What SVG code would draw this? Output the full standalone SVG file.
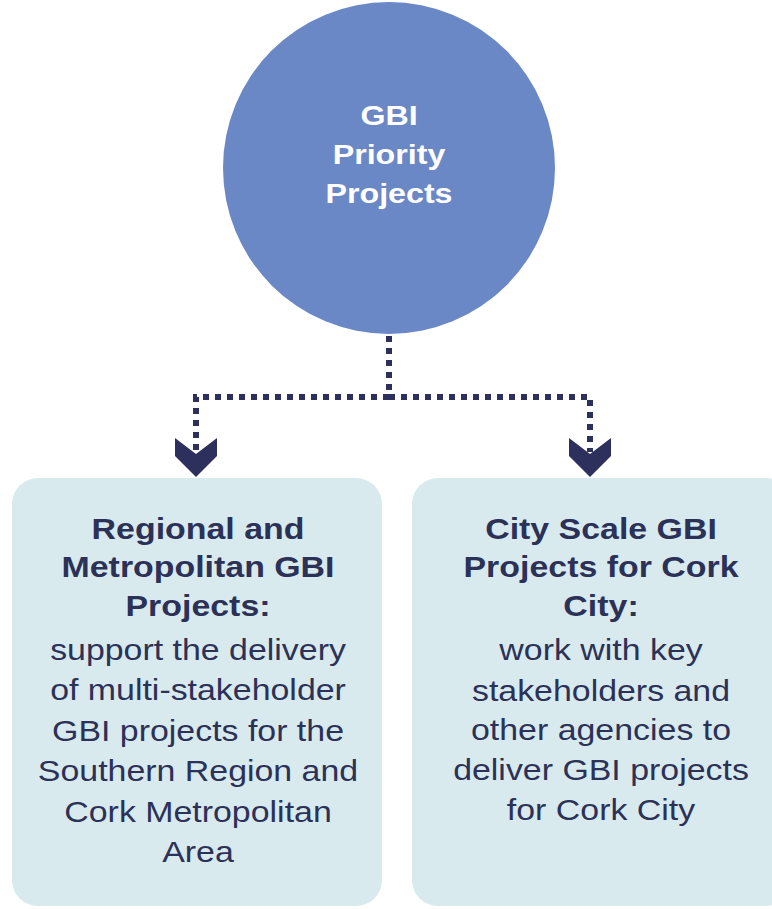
<svg xmlns="http://www.w3.org/2000/svg" width="772" height="909" viewBox="0 0 772 909">
<style>
.box{fill:#d9eaef}
.t{font-family:"Liberation Sans",Arial,sans-serif;fill:#2b3157;text-anchor:middle}
.b{font-weight:bold;font-size:30px}
.n{font-size:30px}
.w{font-family:"Liberation Sans",Arial,sans-serif;fill:#ffffff;font-weight:bold;font-size:28px;text-anchor:middle}
.dot{fill:none;stroke:#2d2f5c;stroke-width:6;stroke-dasharray:6 6}
.chev{fill:#2d2f5c}
</style>
<rect width="772" height="909" fill="#ffffff"/>
<g id="connectors">
<path class="dot" d="M389 336 V397"/>
<path class="dot" d="M389 397 H196 V452"/>
<path class="dot" d="M389 397 H590 V452"/>
<polygon class="chev" points="175,438 196,454 217,438 217,456 196,477 175,456"/>
<polygon class="chev" points="569,438 590,454 611,438 611,456 590,477 569,456"/>
</g>
<g id="node-gbi">
<circle cx="389" cy="168" r="166" fill="#6a87c6"/>
<g transform="translate(389 0) scale(1.15 1)">
<text class="w" x="0" y="125">GBI</text>
<text class="w" x="0" y="164">Priority</text>
<text class="w" x="0" y="203">Projects</text>
</g>
</g>
<g id="node-regional">
<rect class="box" x="12" y="478" width="370" height="428" rx="26"/>
<g transform="translate(198 0) scale(1.13 1)">
<text class="t b" x="0" y="539">Regional and</text>
<text class="t b" x="0" y="577">Metropolitan GBI</text>
<text class="t b" x="0" y="616">Projects:</text>
<text class="t n" x="0" y="660">support the delivery</text>
<text class="t n" x="0" y="700">of multi-stakeholder</text>
<text class="t n" x="0" y="741">GBI projects for the</text>
<text class="t n" x="0" y="781">Southern Region and</text>
<text class="t n" x="0" y="822">Cork Metropolitan</text>
<text class="t n" x="0" y="862">Area</text>
</g>
</g>
<g id="node-city">
<rect class="box" x="412" y="478" width="380" height="428" rx="26"/>
<g transform="translate(601 0) scale(1.13 1)">
<text class="t b" x="0" y="539">City Scale GBI</text>
<text class="t b" x="0" y="577">Projects for Cork</text>
<text class="t b" x="0" y="616">City:</text>
<text class="t n" x="0" y="660">work with key</text>
<text class="t n" x="0" y="701">stakeholders and</text>
<text class="t n" x="0" y="740">other agencies to</text>
<text class="t n" x="0" y="780">deliver GBI projects</text>
<text class="t n" x="0" y="820">for Cork City</text>
</g>
</g>
</svg>
